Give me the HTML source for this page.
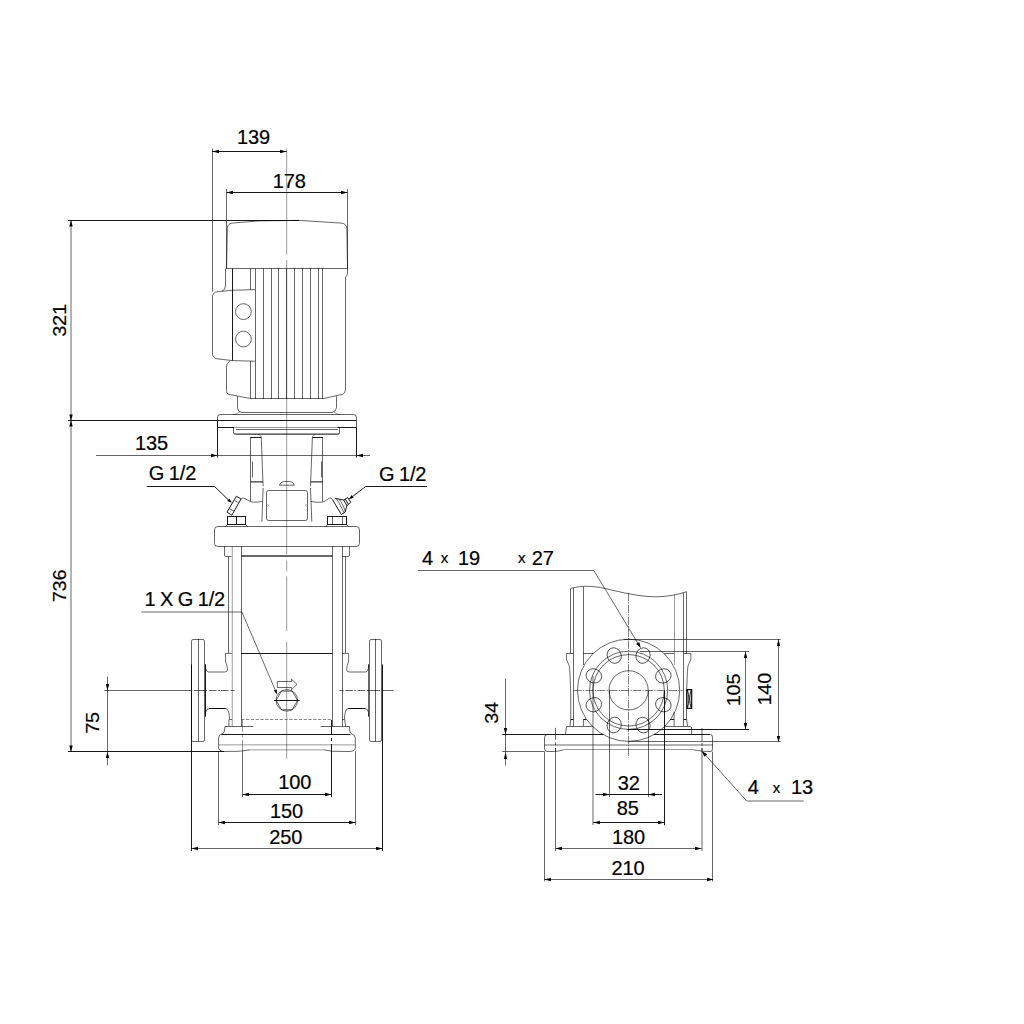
<!DOCTYPE html>
<html lang="en">
<head>
<meta charset="utf-8">
<title>Dimensional drawing</title>
<style>
html,body{margin:0;padding:0;background:#fff;}
body{width:1024px;height:1024px;overflow:hidden;}
svg{display:block;}
.n{fill:none;stroke:#000;stroke-width:.6;}
.l{fill:none;stroke:#000;stroke-width:.4;}
.d{fill:none;stroke:#000;stroke-width:.9;}
.a{fill:#000;stroke:none;}
text{font-family:"Liberation Sans",Arial,Helvetica,sans-serif;fill:#000;stroke:#000;stroke-width:.2px;}
</style>
</head>
<body>
<svg width="1024" height="1024" viewBox="0 0 1024 1024">
<rect x="0" y="0" width="1024" height="1024" fill="#fff"/>
<g id="front-view">
<line class="l" x1="286.7" y1="148.75" x2="286.7" y2="254.4"/>
<line class="l" x1="286.7" y1="260" x2="286.7" y2="554.5"/>
<line class="l" x1="286.7" y1="560.5" x2="286.7" y2="571.25"/>
<line class="l" x1="286.7" y1="576.25" x2="286.7" y2="630.75"/>
<line class="l" x1="286.7" y1="642" x2="286.7" y2="758.5"/>
<path class="n" d="M226.6,268.5 L227.3,228.5 Q227.6,223.6 232,223.1 L259,220.9 L298.75,220.4 L341.25,223.1 Q346.6,223.6 346.9,228.75 L347.5,268.5 Z"/>
<path class="n" d="M225.5,268.5 L225.5,285 Q225.7,290 222,291.2"/>
<path class="n" d="M255,289.6 L232.4,290.3 L218,291.6 Q212.1,292.3 212.5,297.5 L212.5,353 Q212.2,358 217,358.8 L232.4,360.6 L255,361.2"/>
<line class="d" x1="232.5" y1="268.5" x2="232.5" y2="360.6"/>
<line class="n" x1="250.5" y1="268.5" x2="250.5" y2="289.7"/>
<line class="n" x1="250.5" y1="361.1" x2="250.5" y2="398.5"/>
<line class="n" x1="255.5" y1="268.5" x2="255.5" y2="399"/>
<line class="n" x1="263.5" y1="268.5" x2="263.5" y2="399"/>
<line class="n" x1="271.5" y1="268.5" x2="271.5" y2="399"/>
<line class="n" x1="278.5" y1="268.5" x2="278.5" y2="399"/>
<line class="n" x1="286.5" y1="268.5" x2="286.5" y2="399"/>
<line class="n" x1="294.5" y1="268.5" x2="294.5" y2="399"/>
<line class="n" x1="302.5" y1="268.5" x2="302.5" y2="399"/>
<line class="n" x1="310.5" y1="268.5" x2="310.5" y2="399"/>
<line class="n" x1="318.5" y1="268.5" x2="318.5" y2="399"/>
<line class="n" x1="322.5" y1="268.5" x2="322.5" y2="399"/>
<circle class="n" cx="243.4" cy="311.6" r="7.9"/>
<circle class="n" cx="243.4" cy="339.1" r="7.9"/>
<path class="n" d="M347.5,268.5 L347.5,273.2 Q347.3,275.6 345.5,277.2 L345.5,389.5 Q345.1,393.6 342.5,394.3 L322.9,398.7"/>
<path class="n" d="M229.8,361 Q226.3,363 226.5,367 L226.5,390.5 Q226.3,393.8 229,394.5 L250.6,398.5"/>
<line class="n" x1="250.6" y1="398.5" x2="322.9" y2="398.5"/>
<path class="n" d="M237.5,396.3 L237.5,407.5 Q237.5,411.8 241.5,412.5 L332,412.5 Q336,411.8 336.5,407.5 L336.5,396.3"/>
<path class="l" d="M240,411.8 Q237,414.4 233,414.6"/>
<path class="l" d="M333.5,411.8 Q336.5,414.4 340,414.6"/>
<path class="n" d="M217.5,427.2 L217.5,417.2 Q217.6,414.6 220.2,414.5 L353.7,414.5 Q356.3,414.6 356.5,417.2 L356.5,427.2"/>
<line class="d" x1="217.6" y1="427.5" x2="233.8" y2="427.5"/>
<line class="d" x1="337.5" y1="427.5" x2="356.3" y2="427.5"/>
<line class="l" x1="233.8" y1="427.5" x2="337.5" y2="427.5"/>
<line class="n" x1="236" y1="429.5" x2="338" y2="429.5"/>
<path class="n" d="M233.5,427.2 L233.5,432.4 Q233.7,434.5 235.8,434.5 L337.7,434.5 Q339.8,434.5 339.5,432.4 L339.5,427.2"/>
<line class="l" x1="234.5" y1="433.5" x2="339" y2="433.5"/>
<line class="d" x1="250.6" y1="437.5" x2="261.25" y2="437.5"/>
<line class="d" x1="312.4" y1="437.5" x2="322.8" y2="437.5"/>
<line class="n" x1="250.5" y1="437" x2="250.5" y2="501.4"/>
<line class="n" x1="322.5" y1="437" x2="322.5" y2="501.5"/>
<path class="n" d="M261.25,437 L263.1,486.3 M263.1,488 L261.9,521.8"/>
<path class="n" d="M312.4,437 L310.5,486.3 M310.5,488 L311.8,521.5"/>
<path class="l" d="M258.6,434.6 Q261,435 261.25,437"/>
<path class="l" d="M315,434.6 Q312.6,435 312.4,437"/>
<path class="n" d="M252.5,461.5 L252.5,477.5"/>
<path class="n" d="M321.5,461.5 L321.5,477.5"/>
<line class="n" x1="250.6" y1="481.5" x2="262.9" y2="481.5"/>
<line class="l" x1="250.6" y1="482.5" x2="262.9" y2="482.5"/>
<line class="n" x1="310.7" y1="481.5" x2="322.8" y2="481.5"/>
<line class="l" x1="310.7" y1="482.5" x2="322.8" y2="482.5"/>
<rect class="n" x="266.5" y="490.5" width="41" height="30" rx="2"/>
<path class="l" d="M267.4,504.3 L268.6,505.3 L267.4,506.3 M306.6,504.3 L305.4,505.3 L306.6,506.3"/>
<path class="n" d="M279.4,485.2 Q280.6,481.4 284.2,481.5 L289.6,481.5 Q293.3,481.4 294.4,485.2 Z"/>
<path class="d" d="M236.4,496.2 L241.05,499 L231.9,515.2 L227,512.1 Z"/>
<path class="n" d="M234.7,500.4 L238.5,502.75 M229.3,508.6 L234,511"/>
<path class="n" d="M241,499 C242,498.2 243,497.9 244,498.2 C246.5,499 248.5,500.8 250.6,501.7 C254.5,502.7 258.5,502 262.4,501.4"/>
<path class="n" d="M310.8,501.4 C315,502.2 319,502.6 322.8,502 C326,501.2 327.5,498.6 330,498.1 C331.2,498 332,498.8 332.4,499.5"/>
<path class="d" d="M332.4,499.5 L341.3,514.5 L345.1,512.1 L346.9,505.6 L343.7,500 L334.75,498.3"/>
<path class="n" d="M336.6,499 C339,503 342,508 343.9,512.6 M339.3,499.3 C342,503 344.5,508 345.2,511.5"/>
<path class="d" d="M343.7,500 L347.9,497.6 L350.7,502.3 L346.9,505.6 M345.3,499.2 L348.4,504.4"/>
<rect class="d" x="227.5" y="516.5" width="18" height="8" rx="0"/>
<line class="d" x1="236.5" y1="516.3" x2="236.5" y2="524.5"/>
<path class="n" d="M227.25,524.5 L225.3,526.9 M245.6,524.5 L247.8,526.9"/>
<rect class="d" x="327.5" y="516.5" width="19" height="8" rx="0"/>
<line class="n" x1="332.5" y1="516.3" x2="332.5" y2="524.5"/>
<line class="n" x1="342.5" y1="516.3" x2="342.5" y2="524.5"/>
<path class="n" d="M327.25,524.5 L326.1,526.9 M346.5,524.5 L348.8,526.9"/>
<rect class="n" x="214.5" y="526.5" width="145" height="20" rx="3.2"/>
<path class="n" d="M224.5,546.25 L224.5,555 Q224.4,556.3 225.6,556.5 L231.5,556.5"/>
<path class="n" d="M349.5,546.25 L349.5,555 Q349.4,556.3 348.2,556.5 L342.2,556.5"/>
<line class="n" x1="228.5" y1="556.3" x2="228.5" y2="653.1"/>
<line class="l" x1="232.25" y1="546.25" x2="232.25" y2="726.25"/>
<line class="n" x1="345.5" y1="556.3" x2="345.5" y2="653.1"/>
<line class="n" x1="342.5" y1="546.25" x2="342.5" y2="726.25"/>
<line class="n" x1="241.5" y1="546.25" x2="241.5" y2="726.25"/>
<line class="n" x1="332.5" y1="546.25" x2="332.5" y2="726.25"/>
<line class="n" x1="241.25" y1="555.5" x2="332.5" y2="555.5"/>
<line class="n" x1="241.25" y1="556.5" x2="332.5" y2="556.5"/>
<line class="d" x1="241.25" y1="653.5" x2="332.5" y2="653.5"/>
<line class="n" style="stroke-width:.48" x1="241.25" y1="719.5" x2="332.5" y2="719.5" stroke-dasharray="3.2 1.6"/>
<rect class="n" x="191.5" y="639.5" width="13" height="102" rx="1.6"/>
<line class="n" x1="198.5" y1="639" x2="198.5" y2="741.5"/>
<line class="d" x1="205.5" y1="664.4" x2="205.5" y2="716.5"/>
<path class="n" d="M232,653.4 L225.5,653.4 L225.5,661 C226.3,664 227.5,667 227.5,669.5 Q227.4,671.8 224.8,672 M208.5,672 Q205.9,671.5 205.6,668 L205.5,664.4"/>
<line class="n" x1="208.5" y1="672" x2="224.8" y2="672"/>
<path class="n" d="M232,719.5 L229.6,719.5 Q229.3,709 225.8,708.5 L209,708.5 Q206,709 205.6,712.5 L205.5,716.5"/>
<line class="d" x1="209" y1="708.5" x2="225.8" y2="708.5"/>
<line class="n" x1="229" y1="719.4" x2="228.9" y2="726.25"/>
<rect class="n" x="369.5" y="639.5" width="12" height="102" rx="1.6"/>
<line class="n" x1="375.5" y1="639" x2="375.5" y2="741.5"/>
<line class="n" x1="368.5" y1="664.4" x2="368.5" y2="716.5"/>
<path class="n" d="M342.2,653.4 L348.6,653.4 L348.6,661 C347.8,664 346.6,667 346.6,669.5 Q346.7,671.8 349.3,672 M365.6,672 Q368.2,671.5 368.5,668 L368.5,664.4"/>
<line class="n" x1="349.3" y1="672" x2="365.6" y2="672"/>
<path class="n" d="M342.2,719.5 L344.4,719.5 Q344.7,709 348.2,708.5 L365.2,708.5 Q368.2,709 368.5,712.5 L368.5,716.5"/>
<line class="d" x1="348.2" y1="708.5" x2="365.2" y2="708.5"/>
<line class="n" x1="344.6" y1="719.4" x2="345.6" y2="726.25"/>
<line class="n" x1="194.1" y1="690.5" x2="207.2" y2="690.5"/>
<line class="n" x1="209.1" y1="690.5" x2="216.6" y2="690.5"/>
<line class="n" x1="218.2" y1="690.5" x2="220" y2="690.5"/>
<line class="n" x1="221" y1="690.5" x2="228.5" y2="690.5"/>
<line class="n" x1="230.4" y1="690.5" x2="234.6" y2="690.5"/>
<line class="n" x1="339.4" y1="690.5" x2="343.6" y2="690.5"/>
<line class="n" x1="345.5" y1="690.5" x2="353" y2="690.5"/>
<line class="n" x1="354.2" y1="690.5" x2="356" y2="690.5"/>
<line class="n" x1="357.6" y1="690.5" x2="365.1" y2="690.5"/>
<line class="n" x1="367" y1="690.5" x2="380" y2="690.5"/>
<line class="n" x1="381.9" y1="690.5" x2="393.75" y2="690.5"/>
<circle class="n" cx="286.85" cy="700.4" r="10.8"/>
<path class="n" d="M297.55,700.40 L292.20,709.67 L281.50,709.67 L276.15,700.40 L281.50,691.13 L292.20,691.13 Z"/>
<line class="d" x1="274" y1="700.5" x2="299.75" y2="700.5"/>
<path class="n" d="M277.3,681.5 L291.5,681.5 L291.5,679.2 L297,684.4 L291.5,689.6 L291.5,687.5 L277.3,687.5 Z"/>
<line class="n" x1="225" y1="726.5" x2="253.1" y2="726.5"/>
<line class="n" x1="320.6" y1="726.5" x2="349.4" y2="726.5"/>
<path class="n" d="M225,726.25 L224.4,731 Q224,733.6 221.5,734"/>
<path class="n" d="M349.4,726.25 L349.8,731 Q350,733.6 352,734"/>
<line class="d" x1="221.25" y1="734.5" x2="350.5" y2="734.5"/>
<path class="n" d="M250,749.85 Q244,750.8 238,751.3 L223,751.5 Q219,751.3 218.6,748 L218.6,738 Q218.75,734.5 221.5,734"/>
<path class="n" d="M323.75,749.85 Q328,750.6 333,751.3 L350,751.5 Q355,751.2 355.3,748 L355.3,738 Q355,734.5 352,734"/>
<line class="l" x1="250" y1="749.85" x2="323.75" y2="749.85"/>
<line class="l" x1="218.75" y1="744.85" x2="355.2" y2="744.85"/>
</g>
<g id="front-dims">
<line class="n" x1="212.5" y1="148.5" x2="212.5" y2="291.5"/>
<line class="d" x1="212" y1="151.5" x2="286.6" y2="151.5"/>
<polygon class="a" points="212.50,151.50 218.90,149.80 218.90,153.20"/>
<polygon class="a" points="286.50,151.50 280.10,153.20 280.10,149.80"/>
<text transform="translate(236.94 144.4) scale(1 1.04)" style="font-size:20px;letter-spacing:-0.1px">139</text>
<line class="n" x1="226.5" y1="189" x2="226.5" y2="268.5"/>
<line class="n" x1="347.5" y1="189" x2="347.5" y2="268.5"/>
<line class="d" x1="226.5" y1="192.5" x2="347.5" y2="192.5"/>
<polygon class="a" points="226.50,192.50 232.90,190.80 232.90,194.20"/>
<polygon class="a" points="347.50,192.50 341.10,194.20 341.10,190.80"/>
<text transform="translate(272.79 187.9) scale(1 1.04)" style="font-size:20px;letter-spacing:-0.1px">178</text>
<line class="d" x1="68" y1="220.5" x2="299" y2="220.5"/>
<line class="d" x1="68" y1="420.5" x2="356.3" y2="420.5"/>
<line class="d" x1="68" y1="751.5" x2="224" y2="751.5"/>
<line class="n" x1="71" y1="220.35" x2="71" y2="751.4"/>
<polygon class="a" points="71.00,220.00 72.70,226.40 69.30,226.40"/>
<polygon class="a" points="71.00,421.00 69.30,414.60 72.70,414.60"/>
<polygon class="a" points="71.00,420.00 72.70,426.40 69.30,426.40"/>
<polygon class="a" points="71.00,752.00 69.30,745.60 72.70,745.60"/>
<text transform="translate(65.7 320.5) rotate(-90) scale(1 0.915)" text-anchor="middle" style="font-size:20px;letter-spacing:-0.25px">321</text>
<text transform="translate(65.7 586) rotate(-90) scale(1 0.915)" text-anchor="middle" style="font-size:20px;letter-spacing:-0.25px">736</text>
<line class="d" x1="217.5" y1="420.6" x2="217.5" y2="457.6"/>
<line class="d" x1="356.5" y1="427.2" x2="356.5" y2="457.6"/>
<line class="n" x1="96" y1="455.5" x2="370" y2="455.5"/>
<polygon class="a" points="217.50,455.50 211.10,457.20 211.10,453.80"/>
<polygon class="a" points="356.50,455.50 362.90,453.80 362.90,457.20"/>
<text transform="translate(134.89 450.4) scale(1 1.04)" style="font-size:20px;letter-spacing:-0.1px">135</text>
<path class="d" d="M146.8,486.5 L214.5,486.5 L228.5,500"/>
<polygon class="a" points="231.90,502.75 227.28,501.10 229.47,498.49"/>
<text transform="translate(148.79 480.2) scale(1 1.04)" style="font-size:20px;letter-spacing:-0.1px;word-spacing:-1.0px">G 1/2</text>
<path class="d" d="M427,486.5 L365.6,486.5 L352,497"/>
<polygon class="a" points="348.80,499.30 351.65,495.08 353.67,497.81"/>
<text transform="translate(378.99 480.5) scale(1 1.04)" style="font-size:20px;letter-spacing:-0.1px;word-spacing:-1.0px">G 1/2</text>
<line class="n" x1="141.3" y1="612" x2="241.9" y2="612"/>
<path class="n" d="M241.9,612 L276.6,693.2"/>
<polygon class="a" points="277.20,694.60 273.86,690.59 276.62,689.41"/>
<text transform="translate(144.59 605.7) scale(1 1.04)" style="font-size:20px;letter-spacing:-0.1px;word-spacing:-1.0px">1 X G 1/2</text>
<line class="n" x1="104.2" y1="690.5" x2="192.2" y2="690.5"/>
<line class="n" x1="107.5" y1="676.4" x2="107.5" y2="765.3"/>
<polygon class="a" points="107.50,690.50 105.80,684.10 109.20,684.10"/>
<polygon class="a" points="107.50,751.50 109.20,757.90 105.80,757.90"/>
<text transform="translate(98.7 723) rotate(-90) scale(1 0.915)" text-anchor="middle" style="font-size:20px;letter-spacing:-0.25px">75</text>
<line class="l" x1="242.5" y1="720" x2="242.5" y2="751" stroke-dasharray="12 2.4 3 2.4"/>
<line class="n" x1="242.5" y1="751" x2="242.5" y2="797"/>
<line class="d" x1="331.5" y1="720" x2="331.5" y2="751" stroke-dasharray="15 3 3 3"/>
<line class="d" x1="331.5" y1="751" x2="331.5" y2="797"/>
<line class="d" x1="242.5" y1="794.5" x2="331.4" y2="794.5"/>
<polygon class="a" points="242.50,794.50 248.90,792.80 248.90,796.20"/>
<polygon class="a" points="331.50,794.50 325.10,796.20 325.10,792.80"/>
<text transform="translate(278.19 788.75) scale(1 1.04)" style="font-size:20px;letter-spacing:-0.1px">100</text>
<line class="n" x1="218.5" y1="751.4" x2="218.5" y2="825.2"/>
<line class="n" x1="355.5" y1="751.4" x2="355.5" y2="825.2"/>
<line class="d" x1="218.6" y1="822.5" x2="355.5" y2="822.5"/>
<polygon class="a" points="218.50,822.50 224.90,820.80 224.90,824.20"/>
<polygon class="a" points="355.50,822.50 349.10,824.20 349.10,820.80"/>
<text transform="translate(270.09 817.75) scale(1 1.04)" style="font-size:20px;letter-spacing:-0.1px">150</text>
<line class="d" x1="191.5" y1="664.4" x2="191.5" y2="851"/>
<line class="d" x1="382.5" y1="664.4" x2="382.5" y2="851"/>
<line class="n" x1="191.5" y1="848.5" x2="382.6" y2="848.5"/>
<polygon class="a" points="191.50,848.50 197.90,846.80 197.90,850.20"/>
<polygon class="a" points="382.50,848.50 376.10,850.20 376.10,846.80"/>
<text transform="translate(269.24 844) scale(1 1.04)" style="font-size:20px;letter-spacing:-0.1px">250</text>
</g>
<g id="side-view">
<line class="n" style="stroke-width:.5" x1="628.5" y1="592.8" x2="628.5" y2="757.5" stroke-dasharray="8.4 1.1 1.3 1.1"/>
<line class="n" style="stroke-width:.5" x1="573.4" y1="690.5" x2="682.5" y2="690.5" stroke-dasharray="8.4 1.1 1.3 1.1"/>
<path class="n" d="M570.5,653.4 L570.5,588.6 C580,585.5 592,585.5 605,588.5 C622,592.5 640,596.8 656,596.8 C668,596.8 678,594.5 686.5,591.7 L686.5,653.4"/>
<line class="n" x1="573.5" y1="588" x2="573.5" y2="719.4"/>
<line class="n" x1="583.5" y1="586.6" x2="583.5" y2="665"/>
<line class="l" x1="674.5" y1="594.8" x2="674.5" y2="665"/>
<line class="n" x1="683.5" y1="592.6" x2="683.5" y2="719.4"/>
<circle class="n" cx="628.6" cy="690.3" r="51.1"/>
<circle class="n" cx="628.6" cy="690.3" r="39.1"/>
<circle class="n" cx="628.6" cy="690.3" r="35.7"/>
<circle class="n" cx="628.6" cy="690.3" r="19.6"/>
<ellipse class="n" cx="642.99" cy="655.56" rx="7" ry="7.9" transform="rotate(22.5 642.99 655.56)"/>
<ellipse class="n" cx="663.34" cy="675.91" rx="7" ry="7.9" transform="rotate(67.5 663.34 675.91)"/>
<ellipse class="n" cx="663.34" cy="704.69" rx="7" ry="7.9" transform="rotate(112.5 663.34 704.69)"/>
<ellipse class="n" cx="642.99" cy="725.04" rx="7" ry="7.9" transform="rotate(157.5 642.99 725.04)"/>
<ellipse class="n" cx="614.21" cy="725.04" rx="7" ry="7.9" transform="rotate(202.5 614.21 725.04)"/>
<ellipse class="n" cx="593.86" cy="704.69" rx="7" ry="7.9" transform="rotate(247.5 593.86 704.69)"/>
<ellipse class="n" cx="593.86" cy="675.91" rx="7" ry="7.9" transform="rotate(292.5 593.86 675.91)"/>
<ellipse class="n" cx="614.21" cy="655.56" rx="7" ry="7.9" transform="rotate(337.5 614.21 655.56)"/>
<line class="n" x1="566.4" y1="653.5" x2="573.4" y2="653.5"/>
<line class="n" x1="583.4" y1="653.5" x2="593.1" y2="653.5"/>
<line class="n" x1="664.2" y1="653.5" x2="674.1" y2="653.5"/>
<line class="n" x1="683.6" y1="653.5" x2="690.9" y2="653.5"/>
<path class="n" d="M566.5,653.4 L566.4,658.5 C566.6,661 568.6,663.5 569.4,666.5 C570.1,672 570.3,684 570.7,692 L570.8,719.4"/>
<path class="n" d="M690.8,653.4 L690.9,658.5 C690.7,661 688.7,663.5 687.9,666.5 C687.2,672 687,684 686.6,692 L686.5,719.4"/>
<path class="d" style="stroke-width:1.15" d="M686.9,689.6 L691.7,689.6 L691.7,708.4 L686.9,708.4 Z"/>
<path class="d" d="M687.3,690 Q690.6,699 687.3,708 M691.3,690 Q688,699 691.3,708"/>
<line class="d" x1="570.7" y1="719.5" x2="573.5" y2="719.5"/>
<line class="d" x1="583.4" y1="719.5" x2="586.6" y2="719.5"/>
<line class="d" x1="670.4" y1="719.5" x2="674.1" y2="719.5"/>
<line class="d" x1="683.5" y1="719.5" x2="686.6" y2="719.5"/>
<path class="n" d="M570.7,719.4 L570,726.25 M573.5,719.4 L573.5,726.25 M583.4,719.4 L583.4,726.25 M686.6,719.4 L687.6,726.25 M683.5,719.4 L683.5,726.25 M674.1,712 L674.1,726.25"/>
<line class="n" x1="566.6" y1="726.5" x2="592.3" y2="726.5"/>
<line class="n" x1="665.2" y1="726.5" x2="690.4" y2="726.5"/>
<path class="n" d="M566.6,726.5 L565.4,734.4 M690.4,726.3 Q691.5,726.6 691.5,728 L691.6,734.4"/>
<path class="n" d="M563.5,749.9 Q559,751.2 554.7,751.5 L547,751.5 Q544.6,751.5 544.5,748.8 L544.5,737.5 Q544.5,734.7 547,734.5"/>
<path class="n" d="M693.5,749.9 Q698,750.4 701.6,751.2 L710.3,751.6 Q712.8,751.5 712.5,748.8 L712.5,737.5 Q712.8,734.7 710.3,734.5"/>
<line class="l" x1="563.5" y1="749.5" x2="693.5" y2="749.5"/>
<line class="d" x1="502.2" y1="734.5" x2="603.2" y2="734.5"/>
<line class="d" x1="654" y1="734.5" x2="710" y2="734.5"/>
<line class="n" x1="544.4" y1="745" x2="712.9" y2="745"/>
<line class="d" x1="627.5" y1="729.5" x2="749" y2="729.5"/>
</g>
<g id="side-dims">
<line class="n" x1="502.2" y1="751.5" x2="544.5" y2="751.5"/>
<line class="n" x1="505.5" y1="678.75" x2="505.5" y2="765.6"/>
<polygon class="a" points="505.50,734.50 503.80,728.10 507.20,728.10"/>
<polygon class="a" points="505.50,752.50 507.20,758.90 503.80,758.90"/>
<text transform="translate(498.1 713) rotate(-90) scale(1 0.915)" text-anchor="middle" style="font-size:20px;letter-spacing:-0.25px">34</text>
<path class="n" d="M418,570.5 L593.9,570.5 L639.6,646.2"/>
<polygon class="a" points="640.80,648.10 636.14,643.91 639.22,642.04"/>
<text transform="translate(422.04 564.7) scale(1 1.04)" style="font-size:20px;letter-spacing:-0.1px">4</text>
<text transform="translate(440.63 562.8) scale(1 1.0)" style="font-size:15px;letter-spacing:0px">x</text>
<text transform="translate(457.89 564.7) scale(1 1.04)" style="font-size:20px;letter-spacing:-0.1px">19</text>
<text transform="translate(517.93 562.8) scale(1 1.0)" style="font-size:15px;letter-spacing:0px">x</text>
<text transform="translate(531.69 564.7) scale(1 1.04)" style="font-size:20px;letter-spacing:-0.1px">27</text>
<line class="n" x1="623.6" y1="639.5" x2="780.6" y2="639.5"/>
<line class="n" x1="628.6" y1="741.5" x2="780.6" y2="741.5"/>
<line class="n" x1="778.5" y1="639.1" x2="778.5" y2="741.6"/>
<polygon class="a" points="778.50,639.50 780.20,645.90 776.80,645.90"/>
<polygon class="a" points="778.50,742.50 776.80,736.10 780.20,736.10"/>
<text transform="translate(771.3 689.3) rotate(-90) scale(1 0.915)" text-anchor="middle" style="font-size:20px;letter-spacing:-0.25px">140</text>
<line class="n" x1="640" y1="651.5" x2="749" y2="651.5"/>
<line class="n" x1="745.5" y1="651.3" x2="745.5" y2="729.4"/>
<polygon class="a" points="745.50,651.50 747.20,657.90 743.80,657.90"/>
<polygon class="a" points="745.50,729.50 743.80,723.10 747.20,723.10"/>
<text transform="translate(740.1 690) rotate(-90) scale(1 0.915)" text-anchor="middle" style="font-size:20px;letter-spacing:-0.25px">105</text>
<line class="n" x1="746.7" y1="801" x2="803.75" y2="801"/>
<path class="n" d="M705,754.6 L746.7,801"/>
<polygon class="a" points="701.60,751.00 707.12,754.36 704.46,756.79"/>
<text transform="translate(747.84 794.4) scale(1 1.04)" style="font-size:20px;letter-spacing:-0.1px">4</text>
<text transform="translate(772.63 792.8) scale(1 1.0)" style="font-size:15px;letter-spacing:0px">x</text>
<text transform="translate(790.99 794.4) scale(1 1.04)" style="font-size:20px;letter-spacing:-0.1px">13</text>
<line class="n" x1="609.5" y1="690.3" x2="609.5" y2="797"/>
<line class="n" x1="648.5" y1="690.3" x2="648.5" y2="797"/>
<line class="d" x1="595.5" y1="794.5" x2="661.9" y2="794.5"/>
<polygon class="a" points="609.50,794.50 603.10,796.20 603.10,792.80"/>
<polygon class="a" points="648.50,794.50 654.90,792.80 654.90,796.20"/>
<text transform="translate(617.84 789.7) scale(1 1.04)" style="font-size:20px;letter-spacing:-0.1px">32</text>
<line class="n" x1="593" y1="676" x2="593" y2="825.2"/>
<line class="d" x1="664.5" y1="690.3" x2="664.5" y2="825.2"/>
<line class="d" x1="593.1" y1="822.5" x2="664.6" y2="822.5"/>
<polygon class="a" points="593.50,822.50 599.90,820.80 599.90,824.20"/>
<polygon class="a" points="664.50,822.50 658.10,824.20 658.10,820.80"/>
<text transform="translate(616.83 815.4) scale(1 1.04)" style="font-size:20px;letter-spacing:-0.1px">85</text>
<line class="n" x1="555.5" y1="727.8" x2="555.5" y2="751" stroke-dasharray="12.2 2.5 2.8 2.7"/>
<line class="n" x1="555.5" y1="748" x2="555.5" y2="851"/>
<line class="n" x1="702" y1="728" x2="702" y2="751" stroke-dasharray="13 2 3 2"/>
<line class="n" x1="702" y1="748" x2="702" y2="851"/>
<line class="n" x1="555.5" y1="848.5" x2="701.7" y2="848.5"/>
<polygon class="a" points="555.50,848.50 561.90,846.80 561.90,850.20"/>
<polygon class="a" points="701.50,848.50 695.10,850.20 695.10,846.80"/>
<text transform="translate(611.94 843.9) scale(1 1.04)" style="font-size:20px;letter-spacing:-0.1px">180</text>
<line class="n" x1="544.5" y1="751.6" x2="544.5" y2="881.4"/>
<line class="n" x1="712.5" y1="751.6" x2="712.5" y2="881.4"/>
<line class="n" x1="544.4" y1="879.5" x2="712.9" y2="879.5"/>
<polygon class="a" points="544.50,879.50 550.90,877.80 550.90,881.20"/>
<polygon class="a" points="713.50,879.50 707.10,881.20 707.10,877.80"/>
<text transform="translate(611.49 874.7) scale(1 1.04)" style="font-size:20px;letter-spacing:-0.1px">210</text>
</g>
</svg>
</body>
</html>
